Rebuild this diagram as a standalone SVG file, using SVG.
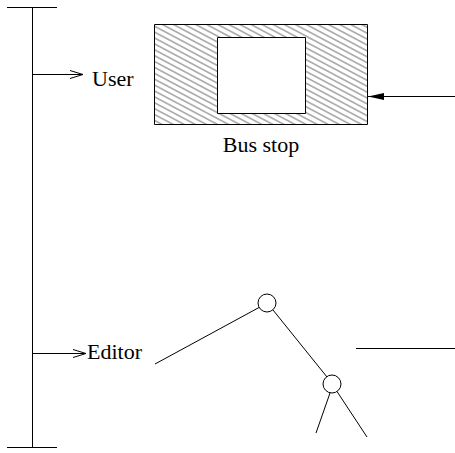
<svg xmlns="http://www.w3.org/2000/svg" width="455" height="453" viewBox="0 0 455 453">
<style>
.ln{stroke:#000;stroke-width:1;fill:none}
.tx{font-family:"Liberation Serif","Times New Roman",serif;font-size:22px;fill:#000}
</style>
<defs>
<pattern id="hatch" patternUnits="userSpaceOnUse" width="10" height="5.2" patternTransform="rotate(28)">
<line x1="0" y1="2.6" x2="10" y2="2.6" stroke="#444" stroke-width="0.8"/>
</pattern>
<marker id="open" markerWidth="16" markerHeight="10" refX="14" refY="5" orient="auto" markerUnits="userSpaceOnUse">
<path d="M1,1 L14,5 L1,9" fill="none" stroke="#000" stroke-width="1"/>
</marker>
</defs>
<g id="timeline">
<line class="ln" x1="32.5" y1="7" x2="32.5" y2="447.5"/>
<line class="ln" x1="7" y1="7.5" x2="57" y2="7.5"/>
<line class="ln" x1="7" y1="447.5" x2="57" y2="447.5"/>
</g>
<g id="connectors">
<line class="ln" x1="32.5" y1="74.5" x2="83" y2="74.5" marker-end="url(#open)"/>
<line class="ln" x1="32.5" y1="353.5" x2="86" y2="353.5" marker-end="url(#open)"/>
<path d="M455,96.5 L368,96.5" class="ln"/>
<path d="M368,96.5 L384,93 L384,100 Z" fill="#000"/>
<line class="ln" x1="155" y1="364" x2="259" y2="307.5"/>
<line class="ln" x1="273" y1="310" x2="327" y2="377"/>
<line class="ln" x1="330" y1="393" x2="316" y2="433"/>
<line class="ln" x1="337" y1="391.5" x2="367" y2="437"/>
<line class="ln" x1="356" y1="348.5" x2="455" y2="348.5"/>
</g>
<g id="user">
<text class="tx" x="92" y="86">User</text>
</g>
<g id="editor">
<text class="tx" x="87" y="359">Editor</text>
</g>
<g id="busstop">
<path d="M154.5,24.5 H367.5 V124.5 H154.5 Z M217.5,37.5 V113.5 H305.5 V37.5 Z" fill="url(#hatch)" fill-rule="evenodd" stroke="#000" stroke-width="1"/>
<text class="tx" x="261" y="152" text-anchor="middle">Bus stop</text>
</g>
<g id="node1">
<circle class="ln" cx="267" cy="303" r="9" fill="#fff"/>
</g>
<g id="node2">
<circle class="ln" cx="332" cy="384" r="9" fill="#fff"/>
</g>
</svg>
